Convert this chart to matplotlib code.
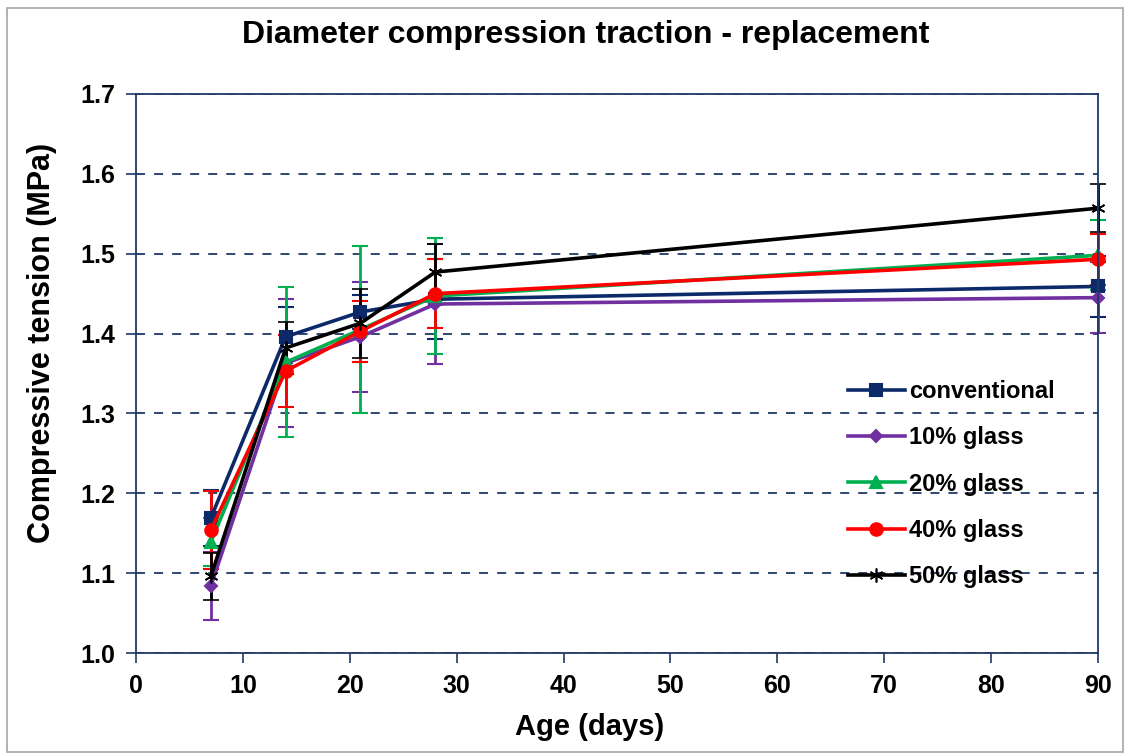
import matplotlib
matplotlib.use("Agg")
import matplotlib.pyplot as plt
from matplotlib.patches import Rectangle

plt.rcParams['font.family'] = ['Liberation Sans', 'DejaVu Sans']
plt.rcParams['font.weight'] = 'bold'

days = [7, 14, 21, 28, 90]
series_names = ["conventional", "10% glass", "20% glass", "40% glass", "50% glass"]
conventional = [1.169, 1.396, 1.427, 1.443, 1.459]
glass10 = [1.084, 1.363, 1.396, 1.437, 1.445]
glass20 = [1.139, 1.364, 1.405, 1.447, 1.498]
glass40 = [1.154, 1.353, 1.403, 1.450, 1.493]
glass50 = [1.096, 1.382, 1.413, 1.477, 1.557]
err_conventional = [0.035, 0.037, 0.021, 0.050, 0.038]
err_10 = [0.043, 0.080, 0.069, 0.075, 0.044]
err_20 = [0.030, 0.094, 0.105, 0.073, 0.044]
err_40 = [0.049, 0.045, 0.038, 0.043, 0.032]
err_50 = [0.029, 0.032, 0.043, 0.035, 0.030]

values = [conventional, glass10, glass20, glass40, glass50]
errors = [err_conventional, err_10, err_20, err_40, err_50]
colors = ["#0C2A6A", "#7030A0", "#00B050", "#FF0000", "#000000"]
markers = ["s", "D", "^", "o", (6, 2, 0)]
msizes = [8, 6, 8, 9, 10]

fig = plt.figure(figsize=(11.27, 7.56), dpi=100)
ax = fig.add_axes([0.1207, 0.1362, 0.8536, 0.7395])

for name, v, e, c, m, ms in zip(series_names, values, errors, colors, markers, msizes):
    cont = ax.errorbar(days, v, yerr=e, color=c, marker=m, markersize=ms, lw=2.6,
                       elinewidth=2, capsize=6, capthick=2, label=name,
                       markeredgecolor=c, markerfacecolor=c,
                       markeredgewidth=1.5 if m != (6, 2, 0) else 1.2)
    cont[0].set_clip_on(False)
    for art in cont[1] + cont[2]:
        art.set_clip_on(False)

ax.set_xlim(0, 90)
ax.set_ylim(1.0, 1.7)
ax.set_xticks(range(0, 91, 10))
yt = [1.0, 1.1, 1.2, 1.3, 1.4, 1.5, 1.6, 1.7]
ax.set_yticks(yt)
ax.set_yticklabels([f"{t:.1f}" for t in yt])
ax.tick_params(axis='both', labelsize=18, direction='out', length=7, width=1.2, color="#1F3864")
ax.tick_params(axis='x', pad=8)
ax.tick_params(axis='y', pad=8)
for lab in ax.get_xticklabels() + ax.get_yticklabels():
    lab.set_fontweight('bold')
ax.yaxis.grid(True, linestyle=(0, (5, 5)), color="#1F3864", lw=1.3)
ax.set_axisbelow(True)
for s in ['top', 'right', 'left', 'bottom']:
    ax.spines[s].set_color("#1F3864")
    ax.spines[s].set_linewidth(1.3)

fig.text(590 / 1127, 1 - 727 / 756, "Age (days)", fontsize=21, fontweight='bold',
         ha='center', va='center')
fig.text(42 / 1127, 1 - 343 / 756, "Compressive tension (MPa)", fontsize=22, fontweight='bold',
         ha='center', va='center', rotation=90)
fig.text(0.5195, 1 - 35 / 756, "Diameter compression traction - replacement", fontsize=23,
         fontweight='bold', ha='center', va='center')

handles, labels = ax.get_legend_handles_labels()
handles = [h[0] for h in handles]
leg = fig.legend(handles, labels, loc='upper left', bbox_to_anchor=(848 / 1127, 1 - 380 / 756),
                 frameon=False, prop={'weight': 'bold', 'size': 17}, labelspacing=0.99,
                 handlelength=2.4, handletextpad=0.2, borderpad=0, borderaxespad=0)

fig.patches.append(Rectangle((7 / 1127, 4 / 756), 1116 / 1127, 744 / 756, transform=fig.transFigure,
                             fill=False, edgecolor="#A6A6A6", lw=1.2))

fig.savefig("out.png", dpi=100)
